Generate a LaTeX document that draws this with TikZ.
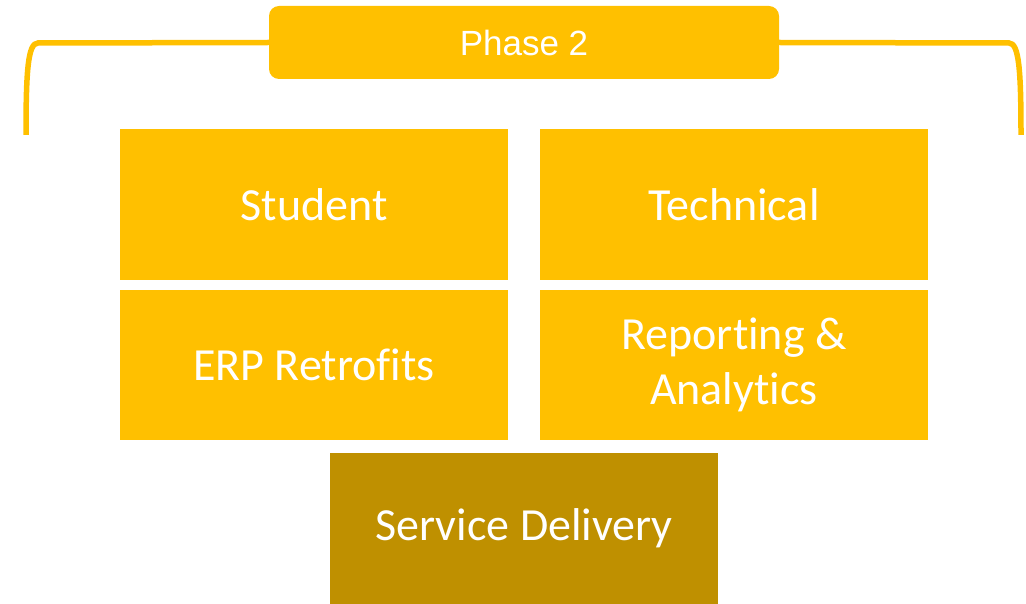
\documentclass[tikz,border=0pt]{standalone}
\usepackage{fontspec}
\setmainfont{Carlito}[Ligatures=NoCommon]
\newfontfamily\phasefont{Liberation Sans}
\usepackage{tikz}
\definecolor{gold}{HTML}{FFC000}
\definecolor{darkgold}{HTML}{BF9000}
\tikzstyle{block}=[fill=gold, text=white, inner sep=0pt, minimum width=388pt, minimum height=151pt, align=center, font=\fontsize{46}{55}\selectfont]
\tikzstyle{dblock}=[block, fill=darkgold]
\tikzstyle{phase}=[fill=gold, text=white, rounded corners=10pt, inner sep=0pt, minimum width=510pt, minimum height=73pt, font=\phasefont\fontsize{35}{42}\selectfont]
\tikzstyle{brace}=[draw=gold, line width=5.5pt]

\begin{document}
\begin{tikzpicture}[x=1pt, y=-1pt]
        \useasboundingbox (0,0) rectangle (1026,604);
        \node[phase] (phase) at (524, 42.5) {Phase 2};
        \coordinate (lfoot) at (26, 135);
        \coordinate (rfoot) at (1021, 135);
        \draw[brace] (lfoot) .. controls (26, 70) and (28, 43) .. (38, 43) -- (phase.west);
        \draw[brace] (rfoot) .. controls (1021, 70) and (1019, 43) .. (1009, 43) -- (phase.east);
        \node[block] (student) at (314, 204.5) {Student};
        \node[block] (technical) at (734, 204.5) {Technical};
        \node[block, minimum height=150pt] (erp) at (314, 365) {ERP Retrofits};
        \node[block, minimum height=150pt] (reporting) at (734, 365) {Reporting \&\\Analytics};
        \node[dblock] (service) at (524, 528.5) {Service Delivery};
    \end{tikzpicture}
\end{document}
